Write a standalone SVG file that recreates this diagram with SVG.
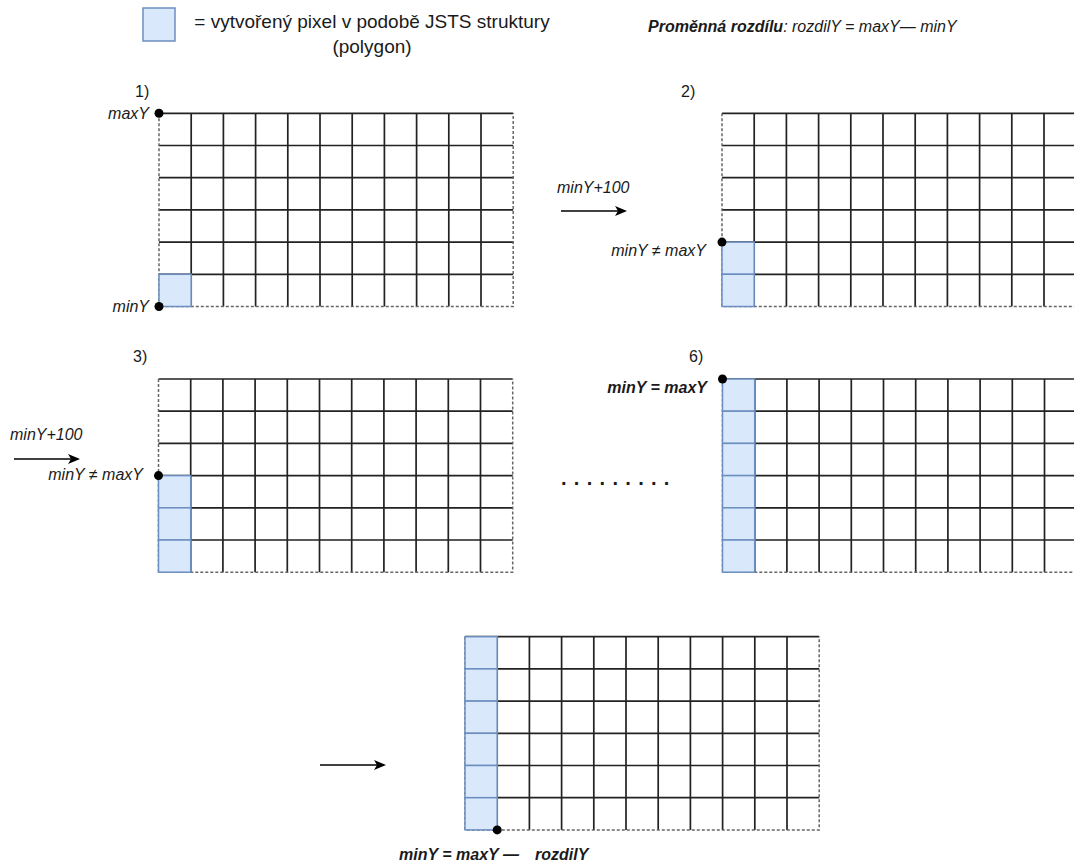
<svg xmlns="http://www.w3.org/2000/svg" xmlns:xlink="http://www.w3.org/1999/xlink" width="1074" height="865" viewBox="0 0 1074 865">
<style>
  text { font-family: "Liberation Sans", Arial, sans-serif; fill: #1a1a1a; }
  .lbl { font-size: 16px; font-style: italic; }
  .blbl { font-size: 16px; font-style: italic; font-weight: bold; }
  .num { font-size: 16px; }
  .leg { font-size: 19px; }
  .in { stroke: #222; stroke-width: 1.7; fill: none; }
  .out { stroke: #666; stroke-width: 1.5; stroke-dasharray: 3 2; fill: none; }
  .px { fill: #dae8fc; stroke: #6c8ebf; stroke-width: 1.5; }
  .pxd { fill: #dae8fc; stroke: #6c8ebf; stroke-width: 1.5; stroke-dasharray: 3 2; }
  .dot { fill: #000; }
  .arr { stroke: #000; stroke-width: 1.5; fill: none; marker-end: url(#ah); }
</style>
<defs>
  <marker id="ah" markerUnits="userSpaceOnUse" markerWidth="14" markerHeight="12" refX="10" refY="5" orient="auto">
    <path d="M0,0 L12,5 L0,10 L3,5 Z" fill="#000"/>
  </marker>
  <g id="grid">
    <rect x="0" y="0" width="354.2" height="193.2" fill="#fff"/>
    <path class="in" d="M32.2,0V193.2M64.4,0V193.2M96.6,0V193.2M128.8,0V193.2M161,0V193.2M193.2,0V193.2M225.4,0V193.2M257.6,0V193.2M289.8,0V193.2M322,0V193.2M0,32.2H354.2M0,64.4H354.2M0,96.6H354.2M0,128.8H354.2M0,161H354.2M0,0H354.2"/>
    <path class="out" d="M0,0V193.2H354.2V0"/>
  </g>
</defs>

<g id="legend">
  <rect class="px" x="143" y="8" width="32" height="33"/>
  <text class="leg" x="372" y="28" text-anchor="middle">= vytvořený pixel v podobě JSTS struktury</text>
  <text class="leg" x="372" y="53" text-anchor="middle">(polygon)</text>
</g>

<g id="variable-note">
  <text x="648" y="32" style="font-size:16px;font-style:italic"><tspan font-weight="bold">Proměnná rozdílu</tspan>: rozdilY = maxY— minY</text>
</g>

<g id="grid1">
  <text class="num" x="135" y="97">1)</text>
  <use xlink:href="#grid" x="159" y="113.3"/>
  <rect class="px" x="159" y="274.3" width="32.2" height="32.2"/>
  <circle class="dot" cx="159" cy="113.3" r="4.5"/>
  <circle class="dot" cx="159" cy="306.5" r="4.5"/>
  <text class="lbl" x="149" y="119" text-anchor="end">maxY</text>
  <text class="lbl" x="149" y="312" text-anchor="end">minY</text>
</g>

<g id="grid2">
  <text class="num" x="681" y="97">2)</text>
  <use xlink:href="#grid" x="722" y="113.3"/>
  <rect class="px" x="722" y="242.1" width="32.2" height="32.2"/>
  <rect class="px" x="722" y="274.3" width="32.2" height="32.2"/>
  <circle class="dot" cx="722" cy="242.1" r="4.5"/>
  <text class="lbl" x="557" y="193">minY+100</text>
  <text class="lbl" x="706" y="256" text-anchor="end">minY ≠ maxY</text>
</g>

<g id="grid3">
  <text class="num" x="133" y="362">3)</text>
  <use xlink:href="#grid" x="158.5" y="379"/>
  <rect class="px" x="158.5" y="475.6" width="32.2" height="32.2"/>
  <rect class="px" x="158.5" y="507.8" width="32.2" height="32.2"/>
  <rect class="px" x="158.5" y="540" width="32.2" height="32.2"/>
  <circle class="dot" cx="158.5" cy="475.6" r="4.5"/>
  <text class="lbl" x="10" y="440">minY+100</text>
  <text class="lbl" x="143" y="480" text-anchor="end">minY ≠ maxY</text>
</g>

<g id="ellipsis">
  <text x="561" y="485" style="font-size:20px;font-weight:bold;letter-spacing:7.3px">.........</text>
</g>

<g id="grid6">
  <text class="num" x="689" y="362">6)</text>
  <use xlink:href="#grid" x="722.5" y="379"/>
  <rect class="px" x="722.5" y="379" width="32.2" height="32.2"/>
  <rect class="px" x="722.5" y="411.2" width="32.2" height="32.2"/>
  <rect class="px" x="722.5" y="443.4" width="32.2" height="32.2"/>
  <rect class="px" x="722.5" y="475.6" width="32.2" height="32.2"/>
  <rect class="px" x="722.5" y="507.8" width="32.2" height="32.2"/>
  <rect class="px" x="722.5" y="540" width="32.2" height="32.2"/>
  <circle class="dot" cx="722.5" cy="379" r="4.5"/>
  <text class="blbl" x="707" y="393" text-anchor="end">minY = maxY</text>
</g>

<g id="grid-final">
  <use xlink:href="#grid" x="465" y="636.7"/>
  <rect class="px" x="465" y="636.7" width="32.2" height="32.2"/>
  <rect class="px" x="465" y="668.9" width="32.2" height="32.2"/>
  <rect class="px" x="465" y="701.1" width="32.2" height="32.2"/>
  <rect class="px" x="465" y="733.3" width="32.2" height="32.2"/>
  <rect class="px" x="465" y="765.5" width="32.2" height="32.2"/>
  <rect class="px" x="465" y="797.7" width="32.2" height="32.2"/>
  <circle class="dot" cx="497.2" cy="829.9" r="4.5"/>
  <text class="blbl" x="399" y="860">minY = maxY —<tspan x="535">rozdilY</tspan></text>
</g>

<g id="connectors">
  <line class="arr" x1="561" y1="211" x2="625" y2="211"/>
  <line class="arr" x1="14" y1="459" x2="78" y2="459"/>
  <line class="arr" x1="320" y1="765" x2="384" y2="765"/>
</g>
</svg>
